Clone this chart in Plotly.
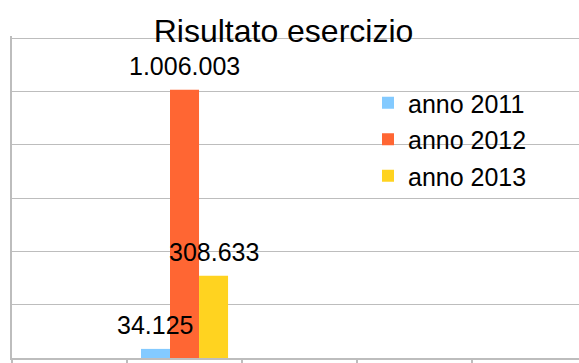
import plotly.graph_objects as go

series_names = ["anno 2011", "anno 2012", "anno 2013"]
series_values = [34125, 1006003, 308633]
value_labels = ["34.125", "1.006.003", "308.633"]
colors = ["#83CAFF", "#FF6633", "#FFD320"]
category_pos = [1]
title_text = "Risultato esercizio"

BARGAP = 0.243
FONT = "Liberation Sans, Arial, sans-serif"
GRID = "#bdbdbd"

fig = go.Figure()
for i, (name, val, col) in enumerate(zip(series_names, series_values, colors)):
    fig.add_trace(go.Bar(
        x=category_pos, y=[val], name=name, marker=dict(color=col, line=dict(width=0)),
        legendgroup=name, hoverinfo="skip",
    ))

# value labels above each bar
n = len(series_values)
for i, (val, lab) in enumerate(zip(series_values, value_labels)):
    off = (i - (n - 1) / 2) * (1 - BARGAP) / n
    fig.add_annotation(
        x=category_pos[0] + off, y=val, text=lab, showarrow=False,
        xanchor="center", yanchor="bottom", yshift=8,
        font=dict(family=FONT, size=25, color="#000000"),
    )

fig.update_layout(
    width=579, height=363,
    margin=dict(l=12, r=0, t=36, b=5, autoexpand=False),
    paper_bgcolor="white", plot_bgcolor="white",
    barmode="group", bargap=BARGAP, bargroupgap=0,
    font=dict(family=FONT, color="#000000"),
    title=dict(text=title_text, x=283.5 / 579, xanchor="center", xref="container",
               y=1 - 31 / 363, yanchor="middle", yref="container",
               font=dict(family=FONT, size=32, color="#000000")),
    showlegend=True,
    legend=dict(xref="paper", yref="paper", x=(368 - 12) / 567, y=(358 - 80) / 322,
                xanchor="left", yanchor="top", bgcolor="rgba(0,0,0,0)",
                font=dict(family=FONT, size=25, color="#000000"),
                tracegroupgap=1, itemclick=False),
    xaxis=dict(type="linear", range=[-0.5, 4.43], showgrid=False, zeroline=False,
               showticklabels=False, ticks="outside", ticklen=5, tickcolor=GRID, tickwidth=2,
               tick0=-0.5, dtick=1, showline=True, linecolor=GRID, linewidth=2),
    yaxis=dict(range=[0, 1200000 * 322 / 320], dtick=200000, showgrid=True, gridcolor=GRID,
               gridwidth=1, zeroline=False, showticklabels=False, ticks="",
               showline=True, linecolor=GRID, linewidth=2),
)

fig.write_html("out.html")
